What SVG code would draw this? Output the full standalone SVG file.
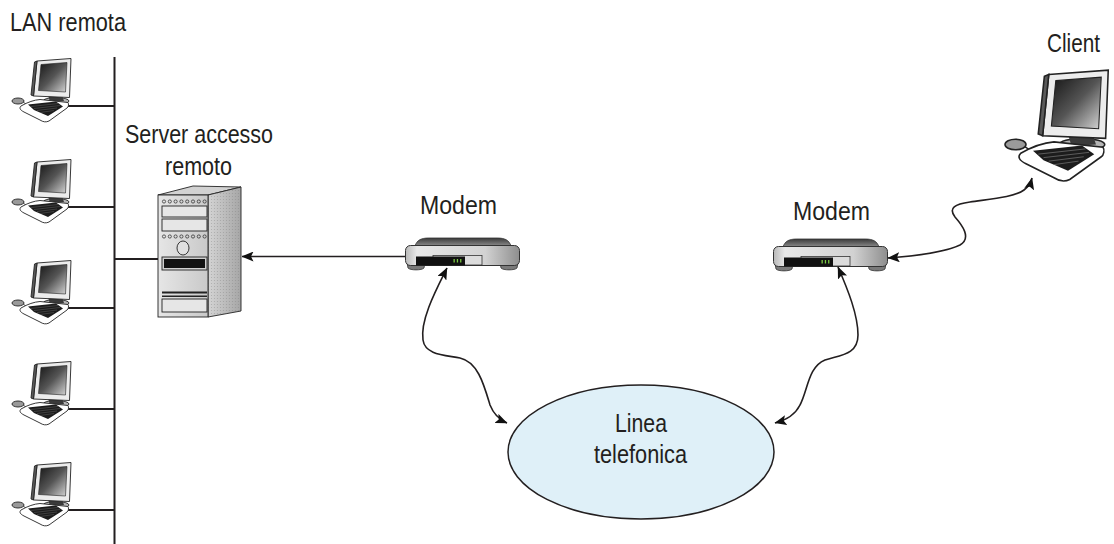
<svg xmlns="http://www.w3.org/2000/svg" xmlns:xlink="http://www.w3.org/1999/xlink" width="1114" height="544" viewBox="0 0 1114 544">
  <style>
    .lbl { font-family: "Liberation Sans", Arial, Helvetica, sans-serif; font-size: 25px; fill: #231f20; }
    .bus { stroke: #231f20; stroke-width: 2; fill: none; }
    .wire { stroke: #231f20; stroke-width: 1.6; fill: none; }
    .edge { stroke: #222; stroke-width: 0.9; }
  </style>
  <defs>
    <marker id="ah" viewBox="0 0 12 10" refX="11.5" refY="5" markerWidth="12" markerHeight="10" markerUnits="userSpaceOnUse" orient="auto-start-reverse">
      <path d="M0,0 L12,5 L0,10 L2.5,5 Z" fill="#111"/>
    </marker>
    <linearGradient id="scr" x1="0" y1="0" x2="1" y2="1">
      <stop offset="0" stop-color="#151515"/>
      <stop offset="0.5" stop-color="#555"/>
      <stop offset="1" stop-color="#d5d5d5"/>
    </linearGradient>
    <linearGradient id="mtop" x1="0" y1="0" x2="0" y2="1">
      <stop offset="0" stop-color="#3a3a3a"/>
      <stop offset="1" stop-color="#8c8c8c"/>
    </linearGradient>
    <linearGradient id="mbody" x1="0" y1="0" x2="1" y2="0">
      <stop offset="0" stop-color="#b8b8b8"/>
      <stop offset="0.1" stop-color="#e8e8e8"/>
      <stop offset="0.7" stop-color="#d2d2d2"/>
      <stop offset="1" stop-color="#8e8e8e"/>
    </linearGradient>
    <linearGradient id="sfront" x1="0" y1="0" x2="1" y2="0">
      <stop offset="0" stop-color="#e6e6e6"/>
      <stop offset="1" stop-color="#c9c9c9"/>
    </linearGradient>
    <linearGradient id="sside" x1="0" y1="0" x2="1" y2="0">
      <stop offset="0" stop-color="#d4d4d4"/>
      <stop offset="1" stop-color="#a6a6a6"/>
    </linearGradient>
    <pattern id="dots" width="3" height="3" patternUnits="userSpaceOnUse">
      <circle cx="1.5" cy="1.5" r="0.6" fill="#777" fill-opacity="0.4"/>
    </pattern>

    <!-- desktop workstation: monitor, keyboard, mouse -->
    <g id="pc">
      <ellipse cx="46" cy="44" rx="13" ry="3.5" fill="#b5b5b5" class="edge"/>
      <path d="M38,38 L52,38 L54,44 L40,45 Z" fill="#3a3a3a"/>
      <path d="M27,4 L61,1.5 L59.5,40.5 L23.5,39 Z" fill="#ececec" class="edge"/>
      <path d="M27,4 L24.5,5 L21,38 L23.5,39 Z" fill="#5a5a5a" class="edge"/>
      <path d="M31,7.5 L57,5.5 L55.5,35 L28.5,33.5 Z" fill="url(#scr)" stroke="#222" stroke-width="0.6"/>
      <path d="M13,45 C16,47 17,48 20,47.5" fill="none" stroke="#222" stroke-width="0.8"/>
      <ellipse cx="8" cy="44" rx="6" ry="3" fill="#9a9a9a" class="edge"/>
      <path d="M11,49 C18,45 24,43 30,42.5 L58,45.5 C59,47 58.5,50 57,51 L39,64 C36,65.5 33,65 30,63 L14,55 C10,53 9,51 11,49 Z" fill="#fff" class="edge"/>
      <path d="M18,47.5 L46,44.5 L53,49.5 L38,59 L24,53 Z" fill="#1c1c1c"/>
      <path d="M21,49.5 L48,46.5 M24,51.5 L50,48.5 M27,53.5 L47,51 M30,55.5 L44,53.5" stroke="#777" stroke-width="0.4"/>
    </g>

    <!-- desktop modem -->
    <g id="modem">
      <path d="M10,9 C12,3 16,1 24,1 L92,1 C100,1 104,3 106,9 Z" fill="url(#mtop)" stroke="#333" stroke-width="0.8"/>
      <path d="M2,26 L20,26 L19,31 C17,33.5 5,33.5 3,31 Z" fill="#7a7a7a" stroke="#333" stroke-width="0.8"/>
      <path d="M95,26 L113,26 L112,31 C110,33.5 98,33.5 96,31 Z" fill="#7a7a7a" stroke="#333" stroke-width="0.8"/>
      <rect x="0.5" y="8.5" width="114" height="20" rx="5" fill="url(#mbody)" stroke="#333" stroke-width="1"/>
      <rect x="28" y="18.5" width="49" height="9.5" fill="#dcdcdc" stroke="#333" stroke-width="0.8"/>
      <rect x="11" y="19.5" width="49" height="9" fill="#111"/>
      <rect x="48.5" y="22" width="1.3" height="3.5" fill="#7ac943"/>
      <rect x="51.8" y="22" width="1.3" height="3.5" fill="#7ac943"/>
      <rect x="55.1" y="22" width="1.3" height="3.5" fill="#7ac943"/>
    </g>
  </defs>

  <rect width="1114" height="544" fill="#fff"/>

  <!-- LAN segment -->
  <g id="lan-bus">
    <path class="bus" d="M114.5,57 V544"/>
    <path class="bus" d="M66,106 H114.5 M66,207 H114.5 M66,308 H114.5 M66,409 H114.5 M66,510 H114.5"/>
    <path class="bus" d="M114.5,259 H158"/>
  </g>

  <g id="pc1"><use xlink:href="#pc" transform="translate(10,57)"/></g>
  <g id="pc2"><use xlink:href="#pc" transform="translate(10,158)"/></g>
  <g id="pc3"><use xlink:href="#pc" transform="translate(10,259)"/></g>
  <g id="pc4"><use xlink:href="#pc" transform="translate(10,360)"/></g>
  <g id="pc5"><use xlink:href="#pc" transform="translate(10,461)"/></g>

  <text class="lbl" x="10" y="31" textLength="116" lengthAdjust="spacingAndGlyphs">LAN remota</text>

  <!-- remote access server tower -->
  <g id="server">
    <polygon points="158,195 208,195 241,187 193,186" fill="#d2d2d2" class="edge"/>
    <polygon points="208,195 241,187 241,311 208,317" fill="url(#sside)" class="edge"/>
    <polygon points="208,195 241,187 241,311 208,317" fill="url(#dots)"/>
    <rect x="158" y="195" width="50" height="122" fill="url(#sfront)" class="edge"/>
    <g fill="none" stroke="#222" stroke-width="0.7">
      <circle cx="164" cy="201.5" r="1.6"/><circle cx="169.8" cy="201.5" r="1.6"/><circle cx="175.6" cy="201.5" r="1.6"/><circle cx="181.4" cy="201.5" r="1.6"/>
      <circle cx="187.2" cy="201.5" r="1.6"/><circle cx="193" cy="201.5" r="1.6"/><circle cx="198.8" cy="201.5" r="1.6"/><circle cx="204.6" cy="201.5" r="1.6"/>
      <circle cx="164" cy="236.5" r="1.6"/><circle cx="169.8" cy="236.5" r="1.6"/><circle cx="175.6" cy="236.5" r="1.6"/><circle cx="181.4" cy="236.5" r="1.6"/>
      <circle cx="187.2" cy="236.5" r="1.6"/><circle cx="193" cy="236.5" r="1.6"/><circle cx="198.8" cy="236.5" r="1.6"/><circle cx="204.6" cy="236.5" r="1.6"/>
    </g>
    <rect x="162" y="206" width="45" height="11" fill="#e6e6e6" class="edge"/>
    <rect x="162" y="219" width="45" height="12" fill="#e6e6e6" class="edge"/>
    <ellipse cx="183" cy="248" rx="6" ry="7" fill="#e0e0e0" class="edge"/>
    <rect x="162" y="257" width="45" height="13" fill="#cfcfcf" class="edge"/>
    <rect x="164" y="259" width="41" height="9" fill="#111"/>
    <rect x="162" y="291.5" width="45" height="2" fill="#222"/>
    <rect x="162" y="295.5" width="45" height="1.5" fill="#222"/>
    <rect x="162" y="299" width="45" height="13" fill="#e6e6e6" class="edge"/>
  </g>
  <text class="lbl" x="125" y="143" textLength="148" lengthAdjust="spacingAndGlyphs">Server accesso</text>
  <text class="lbl" x="165" y="175" textLength="67" lengthAdjust="spacingAndGlyphs">remoto</text>

  <!-- modems -->
  <g id="modem-left"><use xlink:href="#modem" transform="translate(405,237)"/></g>
  <text class="lbl" x="420" y="214" textLength="77" lengthAdjust="spacingAndGlyphs">Modem</text>

  <g id="modem-right"><use xlink:href="#modem" transform="translate(773,238)"/></g>
  <text class="lbl" x="793" y="220" textLength="77" lengthAdjust="spacingAndGlyphs">Modem</text>

  <!-- client workstation -->
  <g id="client"><use xlink:href="#pc" transform="translate(1001.5,67.5) scale(1.75)"/></g>
  <text class="lbl" x="1047" y="52" textLength="53" lengthAdjust="spacingAndGlyphs">Client</text>

  <!-- telephone line cloud -->
  <g id="linea">
    <ellipse cx="641" cy="452" rx="133" ry="67" fill="#dff0f8" stroke="#231f20" stroke-width="1.5"/>
    <text class="lbl" x="615" y="432" textLength="52" lengthAdjust="spacingAndGlyphs">Linea</text>
    <text class="lbl" x="594" y="463" textLength="93" lengthAdjust="spacingAndGlyphs">telefonica</text>
  </g>

  <!-- links -->
  <g id="connectors">
    <path class="wire" d="M405,256.5 H242" marker-end="url(#ah)"/>
    <path class="wire" d="M447,268 C436,290 420,320 423,340 C425,355 445,355 460,358 C478,362 484,385 490,405 C494,415 500,420 507,423" marker-start="url(#ah)" marker-end="url(#ah)"/>
    <path class="wire" d="M838,267 C848,290 858,315 858,335 C858,355 840,355 825,360 C808,367 808,390 800,405 C795,415 787,420 775,423" marker-start="url(#ah)" marker-end="url(#ah)"/>
    <path class="wire" d="M888,258 C915,256 945,252 960,245 C972,238 962,225 955,217 C948,208 955,204 970,202 C990,199 1015,197 1024,190 C1028,187 1031,182 1032,178" marker-start="url(#ah)" marker-end="url(#ah)"/>
  </g>
</svg>
